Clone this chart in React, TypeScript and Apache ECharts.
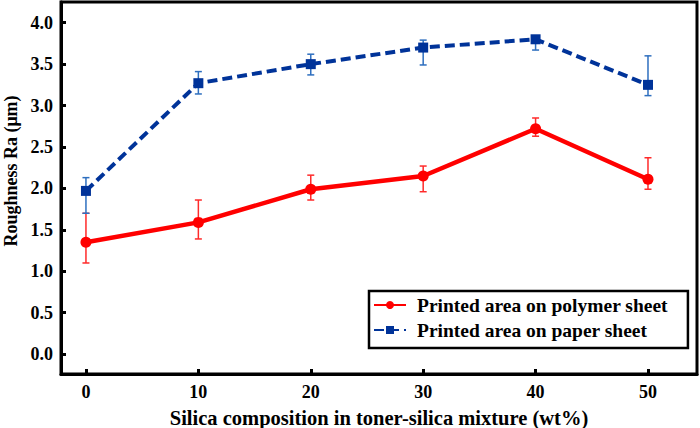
import React, { useEffect, useRef } from "react";
import * as echarts from "echarts";

const silica = [0, 10, 20, 30, 40, 50];
const polymerRa = [1.35, 1.59, 1.99, 2.15, 2.72, 2.11];
const polymerLow = [1.10, 1.39, 1.86, 1.96, 2.63, 1.99];
const polymerHigh = [1.70, 1.86, 2.16, 2.27, 2.85, 2.37];
const paperRa = [1.97, 3.27, 3.50, 3.70, 3.80, 3.25];
const paperLow = [1.70, 3.14, 3.37, 3.49, 3.67, 3.12];
const paperHigh = [2.13, 3.41, 3.62, 3.79, 3.83, 3.60];
const xTicks = [0, 10, 20, 30, 40, 50];
const yTicks = [0, 0.5, 1, 1.5, 2, 2.5, 3, 3.5, 4];

const FONT = "Liberation Serif";

function errorSeries(name: string, low: number[], high: number[], color: string) {
  return {
    type: "custom",
    name,
    silent: true,
    z: 1,
    data: silica.map((x, i) => [x, low[i], high[i]]),
    encode: { x: 0, y: [1, 2] },
    renderItem: (params: any, api: any) => {
      const x = api.value(0);
      const lo = api.coord([x, api.value(1)]);
      const hi = api.coord([x, api.value(2)]);
      const cap = 3.5;
      const style = { stroke: color, lineWidth: 1.5 };
      return {
        type: "group",
        children: [
          { type: "line", shape: { x1: lo[0], y1: lo[1], x2: hi[0], y2: hi[1] }, style },
          { type: "line", shape: { x1: lo[0] - cap, y1: lo[1], x2: lo[0] + cap, y2: lo[1] }, style },
          { type: "line", shape: { x1: hi[0] - cap, y1: hi[1], x2: hi[0] + cap, y2: hi[1] }, style },
        ],
      };
    },
  };
}

export default function App() {
  const ref = useRef<HTMLDivElement>(null);
  useEffect(() => {
    const chart = echarts.init(ref.current!, undefined, { renderer: "svg" });
    chart.setOption({
      animation: false,
      backgroundColor: "#ffffff",
      grid: {
        left: 61,
        top: 2,
        right: 3,
        bottom: 54,
        containLabel: false,
        outerBoundsMode: "none",
        show: true,
        borderColor: "#000",
        borderWidth: 3,
        backgroundColor: "transparent",
      },
      legend: {
        orient: "vertical",
        left: 369,
        top: 291,
        itemWidth: 32,
        itemHeight: 10,
        itemGap: 5,
        padding: [4, 20, 8, 4],
        borderColor: "#000",
        borderWidth: 2.5,
        backgroundColor: "#fff",
        textStyle: {
          fontFamily: FONT,
          fontWeight: "bold",
          fontSize: 19.5,
          color: "#000",
          padding: [0, 0, 0, 6],
        },
        data: ["Printed area on polymer sheet", "Printed area on paper sheet"],
      },
      xAxis: {
        type: "value",
        min: -2.22,
        max: 54.36,
        name: "Silica composition in toner-silica mixture (wt%)",
        nameLocation: "middle",
        nameGap: 33,
        nameTextStyle: { fontFamily: FONT, fontWeight: "bold", fontSize: 20.5, color: "#000" },
        splitLine: { show: false },
        axisLine: { onZero: false, lineStyle: { color: "#000", width: 3 } },
        axisTick: { inside: true, length: 5, lineStyle: { color: "#000", width: 3 }, customValues: xTicks },
        axisLabel: {
          customValues: xTicks,
          margin: 9,
          fontFamily: FONT,
          fontWeight: "bold",
          fontSize: 18,
          color: "#000",
        },
      },
      yAxis: {
        type: "value",
        min: -0.24,
        max: 4.25,
        name: "Roughness Ra (μm)",
        nameLocation: "middle",
        nameGap: 41,
        nameTextStyle: {
          fontFamily: FONT,
          fontWeight: "bold",
          fontSize: 18,
          color: "#000",
          padding: [0, 0, 0, 34],
        },
        splitLine: { show: false },
        axisLine: { onZero: false, lineStyle: { color: "#000", width: 3 } },
        axisTick: { inside: true, length: 5, lineStyle: { color: "#000", width: 3 }, customValues: yTicks },
        axisLabel: {
          customValues: yTicks,
          margin: 8,
          fontFamily: FONT,
          fontWeight: "bold",
          fontSize: 18,
          color: "#000",
          formatter: (v: number) => v.toFixed(1),
        },
      },
      series: [
        errorSeries("polymer-err", polymerLow, polymerHigh, "#ff2a2a"),
        errorSeries("paper-err", paperLow, paperHigh, "#2e6fbf"),
        {
          type: "line",
          name: "Printed area on polymer sheet",
          data: silica.map((x, i) => [x, polymerRa[i]]),
          symbol: "circle",
          symbolSize: 11,
          z: 3,
          itemStyle: { color: "#ff0000" },
          lineStyle: { color: "#ff0000", width: 4.5 },
        },
        {
          type: "line",
          name: "Printed area on paper sheet",
          data: silica.map((x, i) => [x, paperRa[i]]),
          symbol: "rect",
          symbolSize: 10,
          z: 3,
          itemStyle: { color: "#003399" },
          lineStyle: { color: "#003399", width: 4, type: [10, 5] },
        },
      ],
    });
    return () => chart.dispose();
  }, []);
  return (
    <div
      ref={ref}
      style={{ position: "fixed", left: 0, top: 0, width: 700, height: 428, background: "#fff" }}
    />
  );
}
